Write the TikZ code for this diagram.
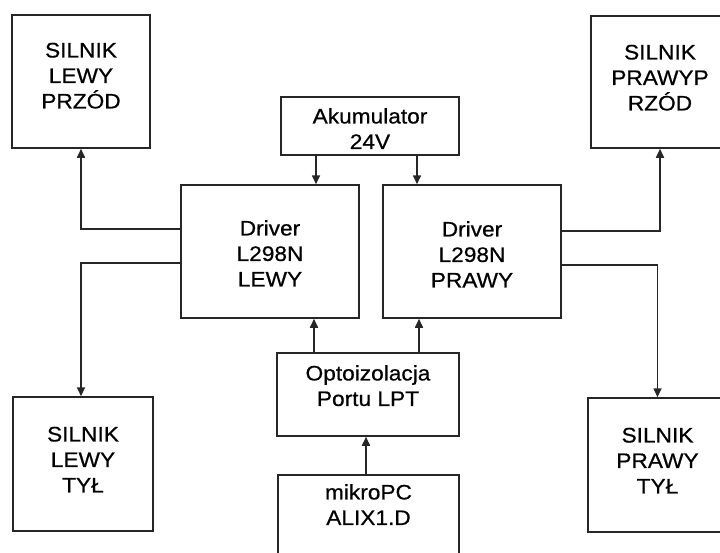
\documentclass[tikz,border=0pt]{standalone}
\usepackage{fontspec}
\setmainfont[FakeStretch=1.08,FakeBold=0.6]{Liberation Sans}
\usetikzlibrary{arrows.meta}
\tikzset{
  blk/.style={draw=black!85, line width=1.5pt, rectangle, inner sep=0pt, fill=none},
  txt/.style={anchor=north, inner sep=0pt, align=center, text=black,
              font=\fontsize{21}{25.5}\selectfont},
  conn/.style={draw=black!85, line width=1.6pt, -{Triangle[length=9pt,width=8pt]}}
}
\newcommand{\fl}{\rule{0pt}{20pt}}
\begin{document}
\begin{tikzpicture}[x=1pt,y=-1pt]
\useasboundingbox (0,0) rectangle (720,552);
\clip (0,0) rectangle (720,552);
% boxes
\node[blk, minimum width=138, minimum height=133] (slp) at (81,81.5) {};
\node[blk, minimum width=138, minimum height=132] (spp) at (660,82) {};
\node[blk, minimum width=178, minimum height=58] (akum) at (370,126) {};
\node[blk, minimum width=178, minimum height=133] (drvL) at (270,251.5) {};
\node[blk, minimum width=178, minimum height=133] (drvR) at (472,251.5) {};
\node[blk, minimum width=182, minimum height=83] (opto) at (368,394.5) {};
\node[blk, minimum width=181, minimum height=100] (mik) at (368.5,525) {};
\node[blk, minimum width=140, minimum height=134] (slt) at (83,464) {};
\node[blk, minimum width=139, minimum height=134] (spt) at (657.5,465) {};
% texts
\node[txt] (tslp) at ([yshift=-23]slp.north) {\fl SILNIK\\LEWY\\PRZÓD};
\node[txt] (tspp) at ([yshift=-24]spp.north) {\fl SILNIK\\PRAWYP\\RZÓD};
\node[txt] (takum) at ([yshift=-7]akum.north) {\fl Akumulator\\24V};
\node[txt] (tdrvL) at ([yshift=-31]drvL.north) {\fl Driver\\L298N\\LEWY};
\node[txt] (tdrvR) at ([yshift=-32]drvR.north) {\fl Driver\\L298N\\PRAWY};
\node[txt] (topto) at ([yshift=-8]opto.north) {\fl Optoizolacja\\Portu LPT};
\node[txt] (tmik) at ([yshift=-5]mik.north) {\fl mikroPC\\ALIX1.D};
\node[txt] (tslt) at ([yshift=-25]slt.north) {\fl SILNIK\\LEWY\\TYŁ};
\node[txt] (tspt) at ([yshift=-25]spt.north) {\fl SILNIK\\PRAWY\\TYŁ};
% connectors
\draw[conn] ([yshift=22.5]drvL.west) -| (slp.south);
\draw[conn] ([yshift=-11.5]drvL.west) -| ([xshift=-2]slt.north);
\draw[conn] ([yshift=20.5]drvR.east) -| (spp.south);
\draw[conn] ([yshift=-13.5]drvR.east) -| (spt.north);
\draw[conn] ([xshift=-54]akum.south) -- ([xshift=-54]akum.south |- drvL.north);
\draw[conn] ([xshift=47]akum.south) -- ([xshift=47]akum.south |- drvR.north);
\draw[conn] ([xshift=-54]opto.north) -- ([xshift=-54]opto.north |- drvL.south);
\draw[conn] ([xshift=51]opto.north) -- ([xshift=51]opto.north |- drvR.south);
\draw[conn] ([xshift=-2]opto.south |- mik.north) -- ([xshift=-2]opto.south);
\end{tikzpicture}
\end{document}
